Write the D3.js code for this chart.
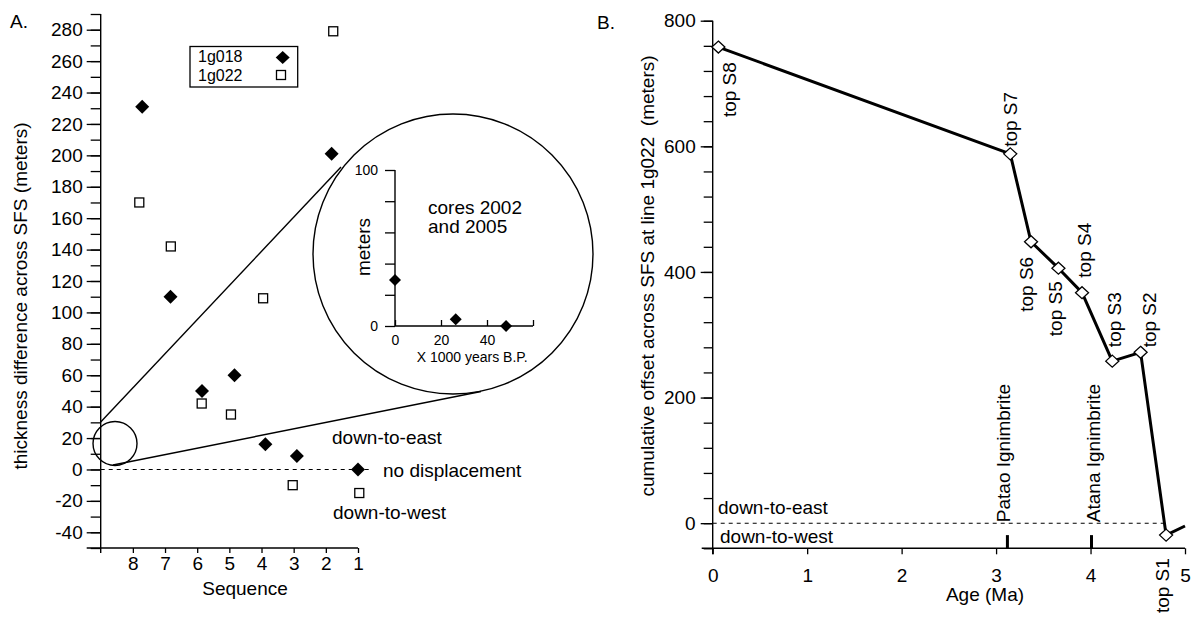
<!DOCTYPE html>
<html>
<head>
<meta charset="utf-8">
<script src="https://d3js.org/d3.v7.min.js"></script>
<style>
  body { margin: 0; background: #fff; }
  svg text { font-family: "Liberation Sans", Arial, Helvetica, sans-serif; fill: #000; }
</style>
</head>
<body>
<div id="chart"></div>
<script>
// ---- Panel A data: thickness difference across SFS
const seq1g018 = [7.71, 6.83, 5.85, 4.84, 3.88, 2.9, 1.82, 1.0];
const thick1g018 = [231, 110, 50, 60, 16, 8.5, 201, 0];
const seq1g022 = [7.8, 6.82, 5.86, 4.95, 3.95, 3.03, 1.77, 0.96];
const thick1g022 = [170, 142, 42, 35, 109, -10, 279, -15];
const seqTicks = [8, 7, 6, 5, 4, 3, 2, 1];
const legendNames = ["1g018", "1g022"];

// inset: cores 2002 and 2005
const coreAge = [0, 26.4, 48.3];
const coreMeters = [29.5, 4.3, 0];

// ---- Panel B data: cumulative offset at line 1g022
const horizons = ["top S8", "top S7", "top S6", "top S5", "top S4", "top S3", "top S2", "top S1"];
const horizonAge = [0.06, 3.15, 3.37, 3.66, 3.91, 4.23, 4.53, 4.8];
const horizonOffset = [758, 588, 448, 406, 367, 258, 272, -19];
const tailAge = 5.0, tailOffset = -4.5;
const ignimbrites = ["Patao Ignimbrite", "Atana Ignimbrite"];
const ignimbriteAge = [3.12, 4.01];
const ageTicks = [0, 1, 2, 3, 4, 5];

const fs = 19;
const diamond = (w, h) => `M0,${-h}L${w},0L0,${h}L${-w},0Z`;

const svg = d3.select("#chart")
  .append("svg")
    .attr("width", 1194)
    .attr("height", 617);

// ================= Panel A =================
const xA = d3.scaleLinear().domain([9, 1]).range([100.7, 358]);
const yA = d3.scaleLinear().domain([-50, 290]).range([548, 14]);
const gA = svg.append("g");

// minor y ticks
gA.append("g")
  .attr("transform", `translate(${xA(9)},0)`)
  .call(d3.axisLeft(yA).tickValues(d3.range(-50, 291, 10)).tickSize(10).tickFormat(""))
  .call(g => g.select(".domain").remove())
  .selectAll("line").attr("stroke-width", 1.3);

// major y ticks + labels (plain hyphen for negatives, as in the figure)
gA.append("g")
  .attr("transform", `translate(${xA(9)},0)`)
  .call(d3.axisLeft(yA).tickValues(d3.range(-40, 281, 20)).tickSize(14).tickPadding(4)
    .tickFormat(d => String(d)))
  .attr("font-size", fs)
  .call(g => g.select(".domain").remove())
  .selectAll("line").attr("stroke-width", 1.3);

// x axis
gA.append("g")
  .attr("transform", `translate(0,${yA(-50)})`)
  .call(d3.axisBottom(xA).tickValues(seqTicks).tickSize(5).tickPadding(3.7))
  .attr("font-size", fs)
  .call(g => g.select(".domain").remove())
  .selectAll("line").attr("stroke-width", 1.3);

// axis lines
gA.append("line")
  .attr("x1", xA(9)).attr("x2", xA(9))
  .attr("y1", yA(290)).attr("y2", yA(-50) + 5)
  .attr("stroke", "#000").attr("stroke-width", 1.4);
gA.append("line")
  .attr("x1", xA(9) - 14).attr("x2", xA(1))
  .attr("y1", yA(-50)).attr("y2", yA(-50))
  .attr("stroke", "#000").attr("stroke-width", 1.4);

// zero line
gA.append("line")
  .attr("x1", xA(9)).attr("x2", xA(1) + 14)
  .attr("y1", yA(0)).attr("y2", yA(0))
  .attr("stroke", "#000").attr("stroke-width", 1.1)
  .attr("stroke-dasharray", "4,4");

// axis titles
gA.append("text")
  .attr("transform", `translate(27,296) rotate(-90)`)
  .attr("text-anchor", "middle")
  .attr("font-size", fs)
  .text("thickness difference across SFS (meters)");
gA.append("text")
  .attr("x", 245).attr("y", 595)
  .attr("text-anchor", "middle")
  .attr("font-size", fs)
  .text("Sequence");
gA.append("text").attr("x", 10).attr("y", 28).attr("font-size", fs).text("A.");

// annotations
gA.append("text").attr("x", 332).attr("y", 443.5).attr("font-size", fs).text("down-to-east");
gA.append("text").attr("x", 383).attr("y", 477).attr("font-size", fs).text("no displacement");
gA.append("text").attr("x", 333).attr("y", 519).attr("font-size", fs).text("down-to-west");

// zoom circles and connecting lines
function styled(sel) {
  return sel.attr("stroke", "#000").attr("stroke-width", 1.4).attr("fill", "none");
}
styled(gA.append("circle").attr("cx", xA(8.555)).attr("cy", yA(16.5)).attr("r", 22));
styled(gA.append("circle").attr("cx", 453).attr("cy", 254).attr("r", 140));
styled(gA.append("line").attr("x1", 100.7).attr("y1", 422).attr("x2", 341).attr("y2", 167));
styled(gA.append("line").attr("x1", 113).attr("y1", 465).attr("x2", 481).attr("y2", 391.5));

// legend
gA.append("rect")
  .attr("x", 190).attr("y", 46.5).attr("width", 107.7).attr("height", 40.5)
  .attr("fill", "#fff").attr("stroke", "#000").attr("stroke-width", 1.3);
gA.selectAll(".legtext")
  .data(legendNames)
  .enter().append("text")
  .attr("class", "legtext")
  .attr("x", 198)
  .attr("y", (d, i) => 62 + i * 18.5)
  .attr("font-size", 16)
  .text(d => d);
gA.append("path").attr("d", diamond(7, 6.5))
  .attr("transform", "translate(282.7,57.5)").attr("fill", "#000");
gA.append("rect").attr("x", 276.5).attr("y", 70.5).attr("width", 9).attr("height", 9)
  .attr("fill", "#fff").attr("stroke", "#000").attr("stroke-width", 1.3);

// points
gA.selectAll(".sq")
  .data(seq1g022.map((s, i) => ({ s, v: thick1g022[i] })))
  .enter().append("rect")
  .attr("class", "sq")
  .attr("x", d => xA(d.s) - 4.5)
  .attr("y", d => yA(d.v) - 4.5)
  .attr("width", 9).attr("height", 9)
  .attr("fill", "#fff").attr("stroke", "#000").attr("stroke-width", 1.3);

gA.selectAll(".dm")
  .data(seq1g018.map((s, i) => ({ s, v: thick1g018[i] })))
  .enter().append("path")
  .attr("class", "dm")
  .attr("d", diamond(7, 7))
  .attr("transform", d => `translate(${xA(d.s)},${yA(d.v)})`)
  .attr("fill", "#000");

// ---- inset
const xI = d3.scaleLinear().domain([0, 60]).range([395, 533]);
const yI = d3.scaleLinear().domain([0, 100]).range([326, 170]);
const gI = svg.append("g");

gI.append("g")
  .attr("transform", `translate(${xI(0)},0)`)
  .call(d3.axisLeft(yI).tickValues(d3.range(0, 101, 20)).tickSize(10).tickPadding(7)
    .tickFormat(d => (d === 0 || d === 100) ? d : ""))
  .attr("font-size", 14)
  .call(g => g.select(".domain").remove())
  .selectAll("line").attr("stroke-width", 1.3);
gI.append("g")
  .attr("transform", `translate(0,${yI(0)})`)
  .call(d3.axisBottom(xI).tickValues([0, 20, 40, 60]).tickSize(-6).tickPadding(9)
    .tickFormat(d => d === 60 ? "" : d))
  .attr("font-size", 14)
  .call(g => g.select(".domain").remove())
  .call(g => g.selectAll("text").attr("y", 9))
  .selectAll("line").attr("stroke-width", 1.3);
gI.append("line")
  .attr("x1", xI(0)).attr("x2", xI(0)).attr("y1", yI(100)).attr("y2", yI(0))
  .attr("stroke", "#000").attr("stroke-width", 1.4);
gI.append("line")
  .attr("x1", xI(0)).attr("x2", xI(60)).attr("y1", yI(0)).attr("y2", yI(0))
  .attr("stroke", "#000").attr("stroke-width", 1.4);

gI.append("text")
  .attr("transform", `translate(370,247) rotate(-90)`)
  .attr("text-anchor", "middle")
  .attr("font-size", fs)
  .text("meters");
gI.append("text").attr("x", 428).attr("y", 214).attr("font-size", fs).text("cores 2002");
gI.append("text").attr("x", 428).attr("y", 233).attr("font-size", fs).text("and 2005");
gI.append("text").attr("x", 416.7).attr("y", 361.5).attr("font-size", 14).text("X 1000 years B.P.");

gI.selectAll(".cdm")
  .data(coreAge.map((a, i) => ({ a, v: coreMeters[i] })))
  .enter().append("path")
  .attr("class", "cdm")
  .attr("d", diamond(6, 6))
  .attr("transform", d => `translate(${xI(d.a)},${yI(d.v)})`)
  .attr("fill", "#000");

// ================= Panel B =================
const xB = d3.scaleLinear().domain([0, 5]).range([712.7, 1185]);
const yB = d3.scaleLinear().domain([-40, 800]).range([548.3, 20.7]);
const gB = svg.append("g");

gB.append("g")
  .attr("transform", `translate(${xB(0)},0)`)
  .call(d3.axisLeft(yB).tickValues(d3.range(-40, 801, 40)).tickSize(9).tickFormat(""))
  .call(g => g.select(".domain").remove())
  .selectAll("line").attr("stroke-width", 1.3);
gB.append("g")
  .attr("transform", `translate(${xB(0)},0)`)
  .call(d3.axisLeft(yB).tickValues([0, 200, 400, 600, 800]).tickSize(12).tickPadding(5))
  .attr("font-size", fs)
  .call(g => g.select(".domain").remove())
  .selectAll("line").attr("stroke-width", 1.3);
gB.append("g")
  .attr("transform", `translate(0,${yB(-40)})`)
  .call(d3.axisBottom(xB).tickValues(ageTicks).tickFormat(d3.format("d")).tickSize(6).tickPadding(14))
  .attr("font-size", fs)
  .call(g => g.select(".domain").remove())
  .selectAll("line").attr("stroke-width", 1.3);

gB.append("line")
  .attr("x1", xB(0)).attr("x2", xB(0)).attr("y1", yB(800)).attr("y2", yB(-40) + 6)
  .attr("stroke", "#000").attr("stroke-width", 1.4);
gB.append("line")
  .attr("x1", xB(0) - 11).attr("x2", xB(5)).attr("y1", yB(-40)).attr("y2", yB(-40))
  .attr("stroke", "#000").attr("stroke-width", 1.4);

gB.append("line")
  .attr("x1", xB(0)).attr("x2", xB(4.78))
  .attr("y1", yB(0)).attr("y2", yB(0))
  .attr("stroke", "#000").attr("stroke-width", 1.1)
  .attr("stroke-dasharray", "4,4");

gB.append("text")
  .attr("transform", `translate(654,276) rotate(-90)`)
  .attr("text-anchor", "middle")
  .attr("font-size", fs)
  .style("white-space", "pre")
  .text("cumulative offset across SFS at line 1g022  (meters)");
gB.append("text")
  .attr("x", 985).attr("y", 600.5)
  .attr("text-anchor", "middle")
  .attr("font-size", fs)
  .text("Age (Ma)");
gB.append("text").attr("x", 597).attr("y", 29).attr("font-size", fs).text("B.");
gB.append("text").attr("x", 718).attr("y", 514).attr("font-size", fs).text("down-to-east");
gB.append("text").attr("x", 720).attr("y", 543).attr("font-size", fs).text("down-to-west");

// ignimbrite markers
ignimbrites.forEach((name, i) => {
  const x = xB(ignimbriteAge[i]);
  gB.append("line")
    .attr("x1", x).attr("x2", x).attr("y1", yB(-19)).attr("y2", yB(-40))
    .attr("stroke", "#000").attr("stroke-width", 3);
  gB.append("text")
    .attr("transform", `translate(${x + (i === 0 ? 3 : 9)},${yB(0) - 1}) rotate(-90)`)
    .attr("font-size", fs)
    .text(name);
});

// offset line
const linePts = horizonAge.map((a, i) => [a, horizonOffset[i]]).concat([[tailAge, tailOffset]]);
gB.append("path")
  .datum(linePts)
  .attr("d", d3.line().x(d => xB(d[0])).y(d => yB(d[1])))
  .attr("fill", "none")
  .attr("stroke", "#000")
  .attr("stroke-width", 3)
  .attr("stroke-linejoin", "round");

gB.selectAll(".hdm")
  .data(horizonAge.map((a, i) => ({ a, v: horizonOffset[i] })))
  .enter().append("path")
  .attr("class", "hdm")
  .attr("d", diamond(6.5, 6))
  .attr("transform", d => `translate(${xB(d.a)},${yB(d.v)})`)
  .attr("fill", "#fff")
  .attr("stroke", "#000")
  .attr("stroke-width", 1.3);

// horizon labels, rotated
const labelShift = [[18, 70], [7, -7], [2, 70], [4, 68], [9, -15], [9, -14], [15, -5], [3, 78]];
gB.selectAll(".hlab")
  .data(horizons)
  .enter().append("text")
  .attr("class", "hlab")
  .attr("font-size", fs)
  .attr("transform", (d, i) =>
    `translate(${xB(horizonAge[i]) + labelShift[i][0]},${yB(horizonOffset[i]) + labelShift[i][1]}) rotate(-90)`)
  .text(d => d);
</script>
</body>
</html>
